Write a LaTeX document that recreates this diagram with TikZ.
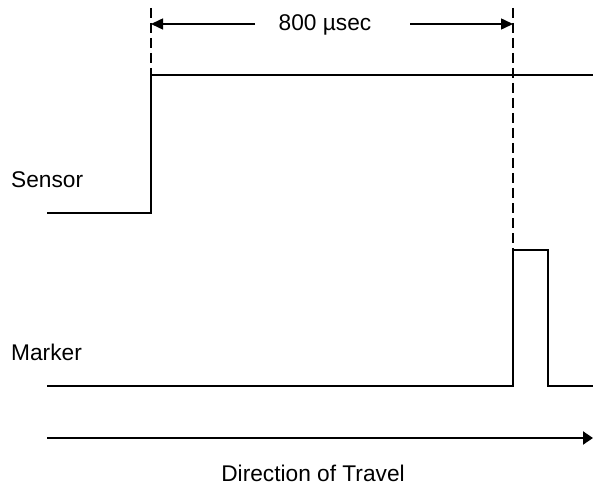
\documentclass[tikz,border=0pt]{standalone}
\usepackage{fontspec}
\setmainfont{Liberation Sans}
\usetikzlibrary{arrows.meta, positioning}
\tikzstyle{wave}   = [line width=1.5pt, line join=miter]
\tikzstyle{guide}  = [line width=1.5pt, dash pattern=on 10pt off 5pt]
\tikzstyle{dim}    = [line width=1.5pt, -{Triangle[length=12pt,width=11pt]}]
\tikzstyle{travel} = [line width=2pt, -{Triangle[length=10pt,width=13pt]}]
\tikzstyle{label}  = [inner sep=0pt, anchor=base west, font=\fontsize{22.7}{27}\selectfont]

\begin{document}
\begin{tikzpicture}[x=1pt, y=-1pt]
\useasboundingbox (0,0) rectangle (593,486);

% signal names
\node[label] (sensor) at (11,188) {Sensor};
\node[label] (marker) at (11,360) {Marker};

% sensor trace
\coordinate (s0) at (47,213);
\coordinate (s1) at (151,213);
\coordinate (s2) at (151,75);
\coordinate (s3) at (593,75);
\draw[wave] (s0) -- (s1) -- (s2) -- (s3);

% marker trace
\coordinate (m0) at (47,386);
\coordinate (m1) at (513,386);
\coordinate (m2) at (513,250);
\coordinate (m3) at (548,250);
\coordinate (m4) at (548,386);
\coordinate (m5) at (593,386);
\draw[wave] (m0) -- (m1) -- (m2) -- (m3) -- (m4) -- (m5);

% timing guides
\coordinate (g1) at (151,8);
\coordinate (g2) at (513,8);
\draw[guide] (g1) -- (s2);
\draw[guide] (g2) -- (m2);

% time span
\node[label, anchor=base] (span) at (325,31) {800 µsec};
\coordinate (a1) at (255,24);
\coordinate (a2) at (410,24);
\coordinate (t1) at (151,24);
\coordinate (t2) at (513,24);
\draw[dim] (a1) -- (t1);
\draw[dim] (a2) -- (t2);

% travel direction
\coordinate (d0) at (47,438);
\coordinate (d1) at (593,438);
\draw[travel] (d0) -- (d1);
\node[label, anchor=base] (dir) at (313,481) {Direction of Travel};

\end{tikzpicture}
\end{document}
